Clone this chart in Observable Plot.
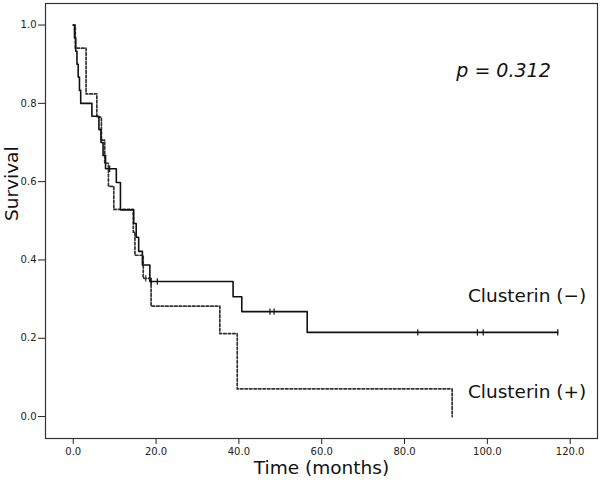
<!DOCTYPE html>
<html>
<head>
<meta charset="utf-8">
<script src="https://cdn.jsdelivr.net/npm/d3@7"></script>
<script src="https://cdn.jsdelivr.net/npm/@observablehq/plot@0.6"></script>
<style>
  html, body { margin: 0; padding: 0; background: white; }
  #chart svg { display: block; }
</style>
</head>
<body>
<div id="chart"></div>
<script>
// Clusterin (−): Kaplan–Meier steps (time in months, survival)
const negTime = [0, 0.3, 0.6, 0.9, 1.2, 1.5, 1.8, 4.5, 6.2, 6.7, 7.2, 7.8, 10.4, 11.4, 14.6, 15.2, 15.8, 16.7, 18.5, 38.6, 40.7, 56.5, 117.0];
const negSurv = [1.0, 0.967, 0.933, 0.90, 0.867, 0.833, 0.80, 0.767, 0.733, 0.70, 0.667, 0.633, 0.598, 0.528, 0.493, 0.458, 0.422, 0.387, 0.345, 0.306, 0.268, 0.215, 0.215];
const negCensorTime = [8.8, 18.8, 20.3, 47.5, 48.5, 83.2, 97.6, 99.0, 117.0];
const negCensorSurv = [0.633, 0.345, 0.345, 0.268, 0.268, 0.215, 0.215, 0.215, 0.215];

// Clusterin (+)
const posTime = [0, 0.5, 3.1, 5.7, 6.8, 7.6, 8.5, 9.8, 14.5, 14.9, 16.9, 18.8, 35.4, 39.6, 91.5];
const posSurv = [1.0, 0.941, 0.824, 0.765, 0.706, 0.647, 0.588, 0.529, 0.471, 0.412, 0.353, 0.282, 0.212, 0.071, 0.0];
const posCensorTime = [17.5];
const posCensorSurv = [0.353];

// Axis ticks
const xTicks = [0, 20, 40, 60, 80, 100, 120];
const yTicks = [0, 0.2, 0.4, 0.6, 0.8, 1.0];

// Annotations
const groupLabels = ["Clusterin (\u2212)", "Clusterin (+)"];
const groupLabelX = [109.6, 109.6];
const groupLabelY = [0.309, 0.062];
const pText = ["p = 0.312"];

const negData = negTime.map((t, i) => ({t, s: negSurv[i]}));
const posData = posTime.map((t, i) => ({t, s: posSurv[i]}));
const negCens = negCensorTime.map((t, i) => ({t, s: negCensorSurv[i]}));
const posCens = posCensorTime.map((t, i) => ({t, s: posCensorSurv[i]}));
const labels = groupLabels.map((text, i) => ({text, x: groupLabelX[i], y: groupLabelY[i]}));

const tickSymbol = {
  draw(context, size) {
    const h = Math.sqrt(size / Math.PI);
    context.moveTo(0, -h);
    context.lineTo(0, h);
  }
};

const chart = Plot.plot({
  width: 600,
  height: 485,
  marginLeft: 45,
  marginRight: 3,
  marginTop: 3,
  marginBottom: 47,
  style: {fontFamily: "'DejaVu Sans', sans-serif", fontSize: "10px", color: "#222", background: "white"},
  x: {domain: [-6.7, 126.6], ticks: xTicks, tickFormat: ".1f", tickSize: 6, tickPadding: 3, label: null},
  y: {domain: [-0.056, 1.055], ticks: yTicks, tickFormat: ".1f", tickSize: 7, tickPadding: 2, label: null},
  marks: [
    Plot.frame({stroke: "#333", strokeWidth: 1.2}),
    Plot.line(posData, {x: "t", y: "s", curve: "step-after", stroke: "#333", strokeWidth: 1.7, strokeDasharray: "2.5,2"}),
    Plot.line(negData, {x: "t", y: "s", curve: "step-after", stroke: "#111", strokeWidth: 1.6}),
    Plot.dot(negCens, {x: "t", y: "s", symbol: tickSymbol, r: 3.2, stroke: "#111", fill: "none", strokeWidth: 1.2}),
    Plot.dot(posCens, {x: "t", y: "s", symbol: tickSymbol, r: 3.2, stroke: "#333", fill: "none", strokeWidth: 1.2}),
    Plot.text(labels, {x: "x", y: "y", text: "text", fontSize: 18.5, fill: "#111", textAnchor: "middle"}),
    Plot.text(pText, {frameAnchor: "top-right", dx: -94, dy: 60, text: d => d, fontSize: 19, fontStyle: "italic", fill: "#111", textAnchor: "middle"}),
    Plot.text(["Time (months)"], {frameAnchor: "bottom", dy: 35, text: d => d, fontSize: 18.5, fill: "#111"}),
    Plot.text(["Survival"], {frameAnchor: "left", dx: -33, rotate: -90, text: d => d, fontSize: 18.5, fill: "#111"})
  ]
});

document.getElementById("chart").appendChild(chart);
</script>
</body>
</html>
